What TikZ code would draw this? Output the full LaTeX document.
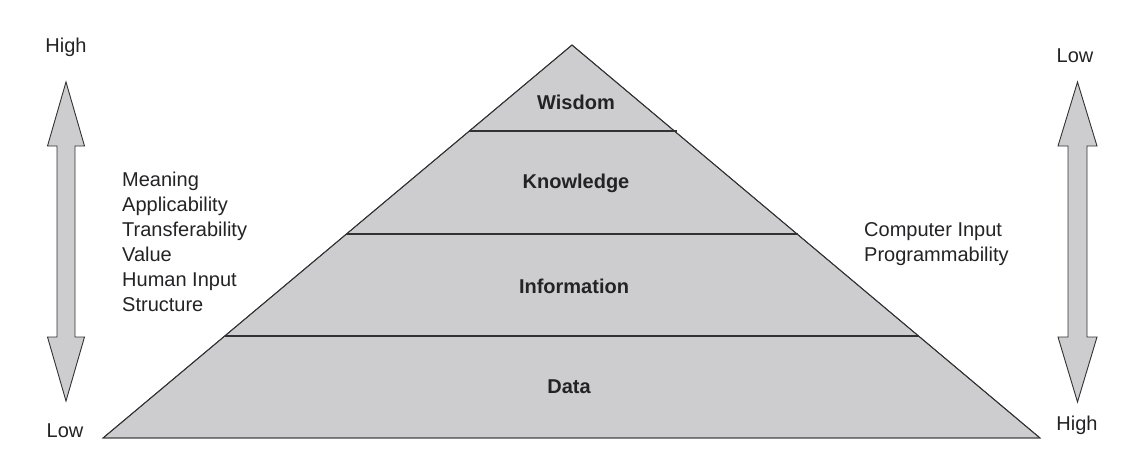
\documentclass[tikz,border=0pt]{standalone}
\usepackage{fontspec}
\setmainfont{Liberation Sans}
\definecolor{fillgray}{RGB}{205,205,208}
\definecolor{linegray}{RGB}{50,50,52}
\definecolor{txt}{RGB}{35,35,38}
\begin{document}
\begin{tikzpicture}[x=1pt,y=-1pt,
  lbl/.style={inner sep=0pt,text=txt,font=\fontsize{20}{24}\selectfont},
  lyr/.style={inner sep=0pt,text=txt,font=\fontsize{20}{24}\selectfont\bfseries},
  grayshape/.style={draw=linegray,fill=fillgray,line width=0.9pt,line join=miter},
  divider/.style={draw=linegray,line width=1.6pt}]
\useasboundingbox (0,0) rectangle (1141,469);
% pyramid
\coordinate (apex) at (572,45);
\coordinate (bl) at (103,438);
\coordinate (br) at (1040,438);
\path[grayshape] (apex) -- (br) -- (bl) -- cycle;
\coordinate (w1) at (469,131); \coordinate (w2) at (677,131);
\coordinate (k1) at (346,234); \coordinate (k2) at (798,234);
\coordinate (i1) at (225,336); \coordinate (i2) at (919,336);
\draw[divider] (w1) -- (w2);
\draw[divider] (k1) -- (k2);
\draw[divider] (i1) -- (i2);
\draw[draw=linegray,line width=0.9pt] (apex) -- (br) -- (bl) -- cycle;
\node[lyr] (wis) at (576,102) {Wisdom};
\node[lyr] (kno) at (576,183) {Knowledge};
\node[lyr] (inf) at (574,286) {Information};
\node[lyr] (dat) at (569,387) {Data};
% left arrow
\path[grayshape] (66,82) -- (84.5,146) -- (75,146) -- (75,337) -- (84.5,337) -- (66,401)
  -- (47.5,337) -- (57,337) -- (57,146) -- (47.5,146) -- cycle;
% right arrow
\path[grayshape] (1077.5,82) -- (1097,146) -- (1087,146) -- (1087,337) -- (1097,337) -- (1077.5,402)
  -- (1058,337) -- (1068,337) -- (1068,146) -- (1058,146) -- cycle;
% end labels
\node[lbl] (lh) at (66,47) {High};
\node[lbl] (ll) at (65,431) {Low};
\node[lbl] (rl) at (1075,56) {Low};
\node[lbl] (rh) at (1077,425) {High};
% left list
\node[lbl,anchor=base west] (m1) at (122,186) {Meaning};
\node[lbl,anchor=base west] (m2) at (122,211) {Applicability};
\node[lbl,anchor=base west] (m3) at (122,236) {Transferability};
\node[lbl,anchor=base west] (m4) at (122,261) {Value};
\node[lbl,anchor=base west] (m5) at (122,286) {Human Input};
\node[lbl,anchor=base west] (m6) at (122,311) {Structure};
% right list
\node[lbl,anchor=base west] (c1) at (864,236) {Computer Input};
\node[lbl,anchor=base west] (c2) at (864,261) {Programmability};
\end{tikzpicture}
\end{document}
